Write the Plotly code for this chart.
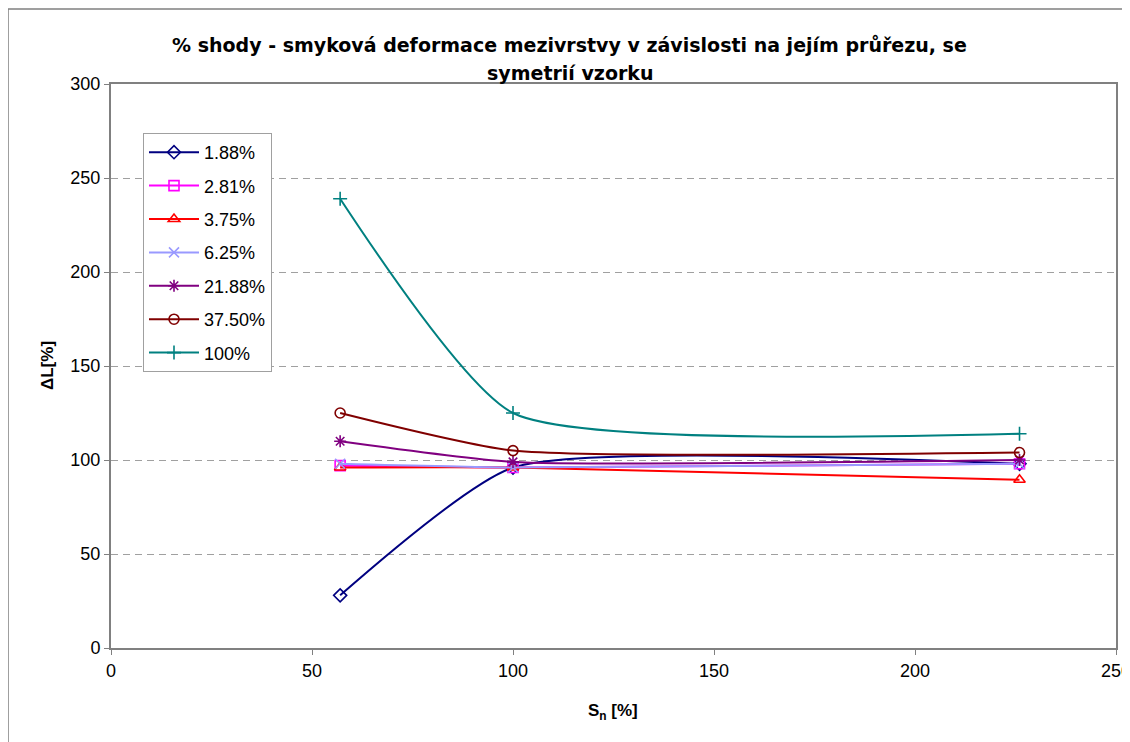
import plotly.graph_objects as go

x_vals = [57, 100, 226]
names = ["1.88%", "2.81%", "3.75%", "6.25%", "21.88%", "37.50%", "100%"]
s188 = [28, 96, 98]
s281 = [97, 96, 98]
s375 = [96, 96, 89.5]
s625 = [98, 96, 98]
s2188 = [110, 99, 100]
s3750 = [125, 105, 104]
s100 = [239, 125, 114]
series = [s188, s281, s375, s625, s2188, s3750, s100]
colors = ["#000080", "#FF00FF", "#FF0000", "#9999FF", "#800080", "#800000", "#008080"]
symbols = ["diamond-open", "square-open", "triangle-up-open", "x-thin-open",
           "asterisk-open", "circle-open", "cross-thin-open"]

# page is offset by the default 8px body margin
OFF = 8
W, H = 1130 - OFF, 742 - OFF
L, R, T, B = 111 - OFF, 1116 - OFF, 84 - OFF, 648 - OFF


def pp(px, py):
    """page pixel -> paper coords"""
    fx, fy = px - OFF, py - OFF
    return (fx - L) / (R - L), (B - fy) / (B - T)


FONT = "Liberation Sans, Arial, sans-serif"

fig = go.Figure()
for n, ys, c, s in zip(names, series, colors, symbols):
    fig.add_trace(go.Scatter(
        x=x_vals, y=ys, name=n, mode="lines+markers", legendgroup=n,
        line=dict(color=c, width=2, shape="spline", smoothing=0.55),
        marker=dict(symbol=s, size=10, color=c, line=dict(color=c, width=1.6)),
    ))

# outer chart-area border
bx0, by0 = pp(8, 9)
bx1, by1 = pp(1150, 760)
fig.add_shape(type="rect", xref="paper", yref="paper", x0=bx0, y0=by1, x1=bx1, y1=by0,
              line=dict(color="#808080", width=1.5), fillcolor="rgba(0,0,0,0)", layer="below")

anns = []
tx, ty = pp(569, 45)
anns.append(dict(text="<b>% shody - smyková deformace mezivrstvy v závislosti na jejím průřezu, se</b>",
                 x=tx, y=ty, xref="paper", yref="paper", xanchor="center", yanchor="middle",
                 showarrow=False, font=dict(family="DejaVu Sans, sans-serif", size=19)))
tx, ty = pp(570, 73)
anns.append(dict(text="<b>symetrií vzorku</b>",
                 x=tx, y=ty, xref="paper", yref="paper", xanchor="center", yanchor="middle",
                 showarrow=False, font=dict(family="DejaVu Sans, sans-serif", size=19)))
tx, ty = pp(47, 366)
anns.append(dict(text="<b>ΔL[%]</b>", x=tx, y=ty, xref="paper", yref="paper",
                 xanchor="center", yanchor="middle", textangle=-90, showarrow=False,
                 font=dict(family=FONT, size=17)))
tx, ty = pp(613, 712)
anns.append(dict(text="<b>S<sub>n</sub> [%]</b>", x=tx, y=ty, xref="paper", yref="paper",
                 xanchor="center", yanchor="middle", showarrow=False,
                 font=dict(family=FONT, size=17)))

lx, ly = pp(143, 133)

fig.update_layout(
    width=W, height=H,
    margin=dict(l=L, r=W - R, t=T, b=H - B, autoexpand=False),
    paper_bgcolor="white", plot_bgcolor="white",
    font=dict(family=FONT, color="black", size=18),
    annotations=anns,
    xaxis=dict(range=[0, 250], tickvals=[0, 50, 100, 150, 200, 250], showgrid=False,
               zeroline=False, showline=True, linecolor="#808080", linewidth=2, mirror=True,
               ticks="outside", ticklen=5, tickcolor="#808080", automargin=False,
               ticklabeloverflow="allow", tickfont=dict(size=18)),
    yaxis=dict(range=[0, 300], tickvals=[0, 50, 100, 150, 200, 250, 300], showgrid=True,
               gridcolor="#A0A0A0", griddash="7px,5px", gridwidth=1,
               zeroline=False, showline=True, linecolor="#808080", linewidth=2, mirror=True,
               ticks="outside", ticklen=5, tickcolor="#808080", automargin=False,
               ticklabeloverflow="allow", tickfont=dict(size=18)),
    legend=dict(x=lx, y=ly, xanchor="left", yanchor="top",
                bordercolor="#A0A0A0", borderwidth=1, bgcolor="white",
                font=dict(size=18), tracegroupgap=7, itemwidth=50),
    showlegend=True,
)

fig.write_html("out.html")
